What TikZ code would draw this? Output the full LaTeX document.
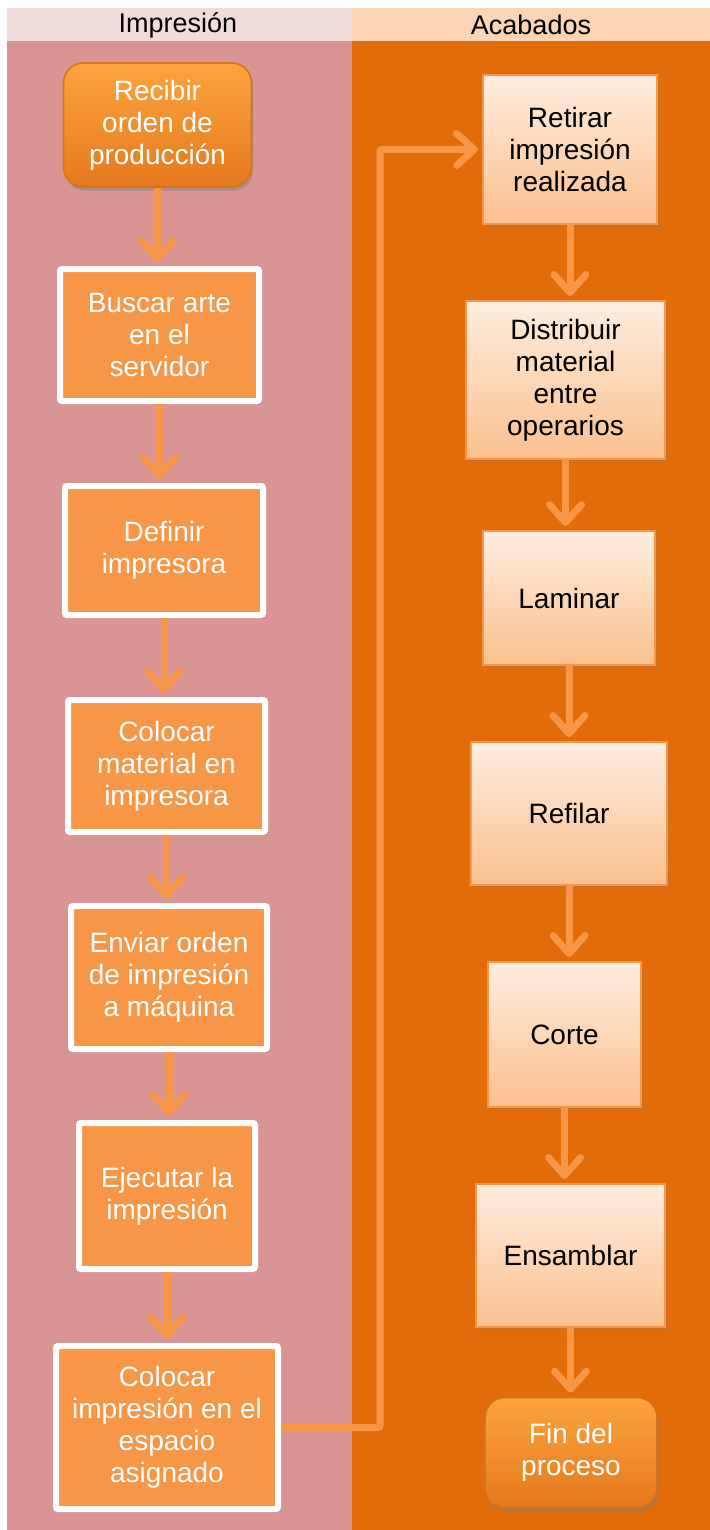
\documentclass[tikz,border=0pt]{standalone}
\usepackage{fontspec}
\setmainfont{Liberation Sans}
\usetikzlibrary{arrows.meta,shadows}

\definecolor{lanehdA}{HTML}{F2DCDB}
\definecolor{lanehdB}{HTML}{FBD5B5}
\definecolor{laneA}{HTML}{D99594}
\definecolor{laneB}{HTML}{E26B0A}
\definecolor{accent}{HTML}{F79646}
\definecolor{peachtop}{HTML}{FEEDE0}
\definecolor{peachbot}{HTML}{FBC08E}
\definecolor{termtop}{HTML}{FCA43E}
\definecolor{termbot}{HTML}{E5791C}
\definecolor{termedge}{HTML}{D8731D}

\tikzset{
  lbox/.style={draw=white, line width=3pt, fill=accent, text=white,
    rounded corners=1pt, align=center, inner sep=0pt,
    font=\fontsize{14}{16}\selectfont,
    drop shadow={shadow xshift=1.2pt, shadow yshift=-1.6pt, opacity=0.28}},
  rbox/.style={draw=accent, line width=1pt, top color=peachtop, bottom color=peachbot,
    text=black, align=center, inner sep=0pt,
    font=\fontsize{14}{16}\selectfont,
    drop shadow={shadow xshift=1.2pt, shadow yshift=-1.6pt, opacity=0.3}},
  term/.style={draw=termedge, line width=0.8pt, top color=termtop, bottom color=termbot,
    text=white, rounded corners=10pt, align=center, inner sep=0pt,
    font=\fontsize{14}{16}\selectfont,
    drop shadow={shadow xshift=0.8pt, shadow yshift=-1.8pt, opacity=0.5}},
  flow/.style={draw=accent, line width=3.5pt,
    -{Straight Barb[length=9pt, width=16pt, round]}, shorten >=2pt},
  hdr/.style={font=\fontsize{13.5}{15}\selectfont, text=black}
}

\begin{document}
\begin{tikzpicture}[x=0.5pt, y=-0.5pt]
  % page and swimlanes
  \fill[white] (0,0) rectangle (710,1530);
  \useasboundingbox (0,0) rectangle (710,1530);
  \fill[lanehdA] (7,8) rectangle (352,41);
  \fill[lanehdB] (352,8) rectangle (710,41);
  \fill[laneA] (7,41) rectangle (352,1530);
  \fill[laneB] (352,41) rectangle (710,1530);
  \node[hdr] (hA) at (178,25) {Impresión};
  \node[hdr] (hB) at (531,25) {Acabados};

  % Impresión lane
  \node[term, minimum width=94pt, minimum height=62pt] (s0) at (157.5,125) {Recibir\\orden de\\producción};
  \node[lbox, minimum width=99.5pt, minimum height=66pt] (s1) at (159.5,335) {Buscar arte\\en el\\servidor};
  \node[lbox, minimum width=99pt, minimum height=64.5pt] (s2) at (164,550.5) {Definir\\impresora};
  \node[lbox, minimum width=98.5pt, minimum height=66pt] (s3) at (166.5,766) {Colocar\\material en\\impresora};
  \node[lbox, minimum width=98pt, minimum height=71.5pt] (s4) at (169,977.5) {Enviar orden\\de impresión\\a máquina};
  \node[lbox, minimum width=88pt, minimum height=73pt] (s5) at (167,1196) {Ejecutar la\\impresión};
  \node[lbox, minimum width=111pt, minimum height=81.5pt] (s6) at (167,1427.5) {Colocar\\impresión en el\\espacio\\asignado};

  % Acabados lane
  \node[rbox, minimum width=87pt, minimum height=74.5pt] (a1) at (570,149.5) {Retirar\\impresión\\realizada};
  \node[rbox, minimum width=99.5pt, minimum height=79pt] (a2) at (565.5,380) {Distribuir\\material\\entre\\operarios};
  \node[rbox, minimum width=86pt, minimum height=67pt] (a3) at (569,598) {Laminar};
  \node[rbox, minimum width=98pt, minimum height=71.5pt] (a4) at (569,813.5) {Refilar};
  \node[rbox, minimum width=76.5pt, minimum height=72.5pt] (a5) at (564.5,1034.5) {Corte};
  \node[rbox, minimum width=94.5pt, minimum height=71.5pt] (a6) at (570.5,1255.5) {Ensamblar};
  \node[term, minimum width=86pt, minimum height=55pt] (a7) at (571,1452.5) {Fin del\\proceso};

  % connectors
  \foreach \u/\v in {s0/s1, s1/s2, s2/s3, s3/s4, s4/s5, s5/s6,
                     a1/a2, a2/a3, a3/a4, a4/a5, a5/a6, a6/a7}
    \draw[flow] (\u.south) -- (\u.south |- \v.north);
  \coordinate (turn) at (380,800);
  \draw[flow, rounded corners=1pt] (s6.east) -| (turn) |- (a1.west);
\end{tikzpicture}
\end{document}
